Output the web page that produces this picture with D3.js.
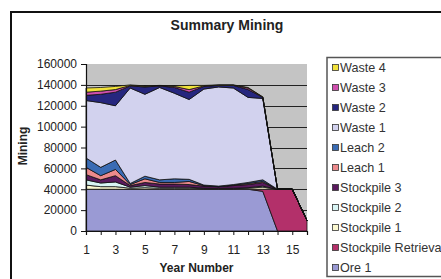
<!DOCTYPE html>
<html>
<head>
<meta charset="utf-8">
<script src="https://cdn.jsdelivr.net/npm/d3@7"></script>
<style>
  body { margin: 0; background: #fff; }
  svg { display: block; font-family: "Liberation Sans", Arial, sans-serif; }
</style>
</head>
<body>
<svg id="chart" width="441" height="279"></svg>
<script>
const years = d3.range(1, 17);
const seriesNames = ["Ore 1", "Stockpile Retrieval", "Stockpile 1", "Stockpile 2", "Stockpile 3",
    "Leach 1", "Leach 2", "Waste 1", "Waste 2", "Waste 3", "Waste 4"];
const seriesColors = ["#9a9ad4", "#b3306a", "#fbf8d0", "#d8f4f4", "#5a1a5e",
    "#ec8a8c", "#3a6cb4", "#d2d2ee", "#26267e", "#cf4fae", "#f2e23a"];

const ore1       = [40000, 40000, 40000, 40000, 40000, 40000, 40000, 40000, 40000, 40000, 40000, 40000, 38000, 0, 0, 0];
const stockRetr  = [0, 0, 0, 0, 0, 0, 0, 0, 0, 0, 0, 0, 2000, 40000, 40000, 10000];
const stockpile1 = [4000, 2500, 2500, 1000, 1500, 1000, 1000, 1000, 500, 500, 500, 1000, 2000, 0, 0, 0];
const stockpile2 = [5000, 3500, 4500, 1000, 2000, 1000, 1000, 1000, 500, 500, 500, 500, 1000, 0, 0, 0];
const stockpile3 = [5000, 3000, 6000, 1500, 3000, 3000, 3000, 2500, 2000, 1500, 2500, 3000, 3500, 0, 0, 0];
const leach1     = [7000, 4000, 6000, 1000, 3500, 1500, 1500, 3000, 500, 0, 500, 1000, 1000, 0, 0, 0];
const leach2     = [9000, 8000, 9000, 1000, 2500, 2500, 3500, 2000, 500, 500, 500, 1000, 1500, 0, 0, 0];
const waste1     = [55000, 62000, 52000, 91500, 78500, 88500, 82000, 76500, 92000, 95000, 92500, 81500, 78000, 0, 0, 0];
const waste2     = [5000, 8000, 13000, 2000, 7000, 1500, 5500, 7000, 2500, 1500, 2500, 7500, 1000, 0, 0, 0];
const waste3     = [3000, 3000, 2500, 500, 500, 300, 1000, 2500, 500, 200, 200, 1500, 200, 0, 0, 0];
const waste4     = [4000, 3500, 3000, 500, 500, 200, 500, 4000, 500, 300, 300, 500, 300, 0, 0, 0];

const yTicks = [0, 20000, 40000, 60000, 80000, 100000, 120000, 140000, 160000];
const xLabels = [1, 3, 5, 7, 9, 11, 13, 15];

const seriesValues = [ore1, stockRetr, stockpile1, stockpile2, stockpile3,
    leach1, leach2, waste1, waste2, waste3, waste4];

// rows for d3.stack
let table = years.map((yr, i) => {
    let row = { year: yr };
    seriesNames.forEach((name, s) => { row[name] = seriesValues[s][i]; });
    return row;
});

const plot = { left: 86, right: 307, top: 64, bottom: 231 };

let svg = d3.select("#chart");

let x = d3.scalePoint().domain(years).range([plot.left, plot.right]);
let y = d3.scaleLinear().domain([0, 160000]).range([plot.bottom, plot.top]);

// outer frame (right/bottom edges fall outside the picture)
svg.append("rect")
    .attr("x", 11).attr("y", 12)
    .attr("width", 460).attr("height", 300)
    .attr("fill", "#fff")
    .attr("stroke", "#111")
    .attr("stroke-width", 2);

svg.append("text")
    .attr("x", 227).attr("y", 30)
    .attr("text-anchor", "middle")
    .attr("font-size", 14).attr("font-weight", "bold")
    .attr("fill", "#222")
    .text("Summary Mining");

// plot area
svg.append("rect")
    .attr("x", plot.left).attr("y", plot.top)
    .attr("width", plot.right - plot.left).attr("height", plot.bottom - plot.top)
    .attr("fill", "#c4c4c4");

svg.append("g")
    .selectAll("line")
    .data(yTicks.filter(d => d > 0 && d < 160000))
    .enter().append("line")
        .attr("x1", plot.left).attr("x2", plot.right)
        .attr("y1", d => Math.round(y(d)) + 0.5).attr("y2", d => Math.round(y(d)) + 0.5)
        .attr("stroke", "#222").attr("stroke-width", 1);

let stacked = d3.stack().keys(seriesNames)(table);

let area = d3.area()
    .x(d => x(d.data.year))
    .y0(d => y(d[0]))
    .y1(d => y(d[1]));

svg.append("g")
    .selectAll("path")
    .data(stacked)
    .enter().append("path")
        .attr("d", area)
        .attr("fill", (d, i) => seriesColors[i])
        .attr("stroke", "#111")
        .attr("stroke-width", 0.8)
        .attr("stroke-linejoin", "round");

// axes
let yAxis = d3.axisLeft(y).tickValues(yTicks).tickSize(5).tickPadding(4).tickFormat(d3.format("d"));
let gy = svg.append("g").attr("transform", "translate(" + plot.left + ",0)").call(yAxis);

let xAxis = d3.axisBottom(x).tickSize(4).tickPadding(10)
    .tickFormat(d => xLabels.includes(d) ? d : "");
let gx = svg.append("g").attr("transform", "translate(0," + plot.bottom + ")").call(xAxis);

[gy, gx].forEach(g => {
    g.select(".domain").attr("stroke", "#111").attr("stroke-width", 1.2);
    g.selectAll(".tick line").attr("stroke", "#111");
    g.selectAll(".tick text")
        .attr("font-family", "'Liberation Sans', Arial, sans-serif")
        .attr("font-size", 12).attr("fill", "#222");
});

svg.append("text")
    .attr("transform", "translate(27,146) rotate(-90)")
    .attr("text-anchor", "middle")
    .attr("font-size", 12).attr("font-weight", "bold")
    .attr("fill", "#222")
    .text("Mining");

svg.append("text")
    .attr("x", (plot.left + plot.right) / 2).attr("y", 272)
    .attr("text-anchor", "middle")
    .attr("font-size", 12).attr("font-weight", "bold")
    .attr("fill", "#222")
    .text("Year Number");

// legend, top entry is the last series
let legend = svg.append("g").attr("id", "legend");

legend.append("rect")
    .attr("x", 327).attr("y", 57.5)
    .attr("width", 140).attr("height", 219)
    .attr("fill", "#fff")
    .attr("stroke", "#555").attr("stroke-width", 1.5);

let items = legend.selectAll(".item")
    .data(seriesNames.map((n, i) => ({ name: n, color: seriesColors[i] })).reverse())
    .enter().append("g")
        .attr("class", "item")
        .attr("transform", (d, i) => "translate(0," + (68 + i * 20) + ")");

items.append("rect")
    .attr("x", 332.5).attr("y", -3.5)
    .attr("width", 6).attr("height", 6)
    .attr("fill", d => d.color)
    .attr("stroke", "#333").attr("stroke-width", 0.8);

items.append("text")
    .attr("x", 340).attr("y", 0)
    .attr("dy", "0.35em")
    .attr("font-size", 12.6)
    .attr("fill", "#333")
    .text(d => d.name);
</script>
</body>
</html>
